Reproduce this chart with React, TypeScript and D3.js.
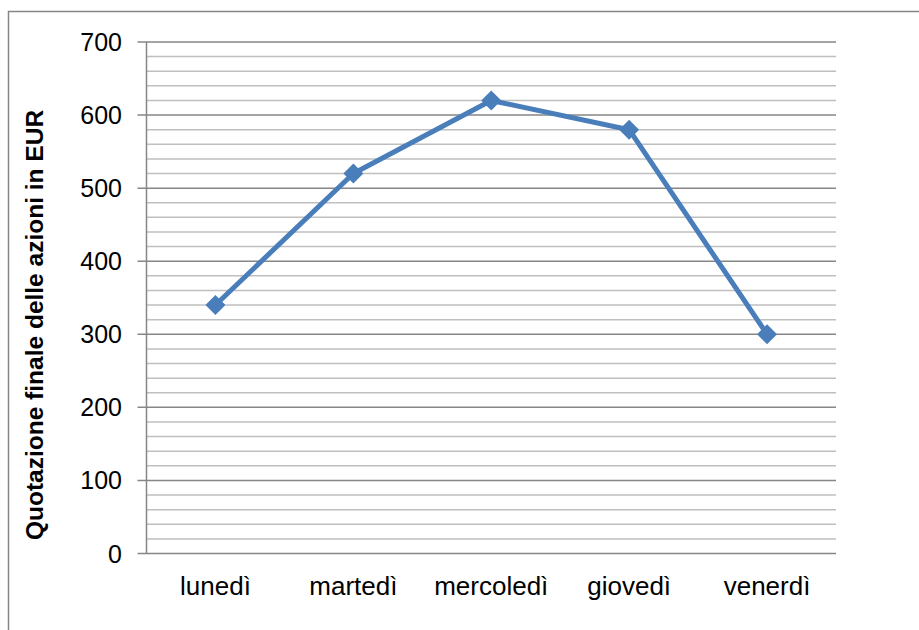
import React from "react";
import * as d3 from "d3";

const categories = ["lunedì", "martedì", "mercoledì", "giovedì", "venerdì"];
const values = [340, 520, 620, 580, 300];
const majorTicks = [0, 100, 200, 300, 400, 500, 600, 700];
const minorTicks = d3.range(0, 701, 20).filter((v) => v % 100 !== 0);
const yTitle = "Quotazione finale delle azioni in EUR";

export default function App() {
  const W = 919;
  const H = 630;
  const left = 146.5;
  const right = 836;
  const top = 42;
  const bottom = 553.5;
  const x = d3.scaleBand().domain(categories).range([left, right]);
  const y = d3.scaleLinear().domain([0, 700]).range([bottom, top]);
  const line = d3
    .line<number>()
    .x((_, i) => (x(categories[i]) as number) + x.bandwidth() / 2)
    .y((d) => y(d));
  const font = "'Liberation Sans', Arial, sans-serif";
  return (
    <svg
      width={W}
      height={H}
      style={{ position: "absolute", left: 0, top: 0, background: "#fff" }}
    >
      <rect x={8.5} y={11.5} width={W + 10} height={H + 10} fill="none" stroke="#868686" strokeWidth={1.5} />
      {minorTicks.map((t) => (
        <line key={"m" + t} x1={left} x2={right} y1={y(t)} y2={y(t)} stroke="#BFBFBF" strokeWidth={1.5} />
      ))}
      {majorTicks.map((t) => (
        <g key={"M" + t}>
          <line x1={left - 9} x2={right} y1={y(t)} y2={y(t)} stroke="#868686" strokeWidth={1.5} />
          <text x={122} y={y(t)} dy="0.36em" textAnchor="end" fontFamily={font} fontSize={25} fill="#000">
            {t}
          </text>
        </g>
      ))}
      <line x1={left} x2={left} y1={top} y2={bottom} stroke="#868686" strokeWidth={1.5} />
      {categories.map((c) => (
        <text
          key={c}
          x={(x(c) as number) + x.bandwidth() / 2}
          y={595}
          textAnchor="middle"
          fontFamily={font}
          fontSize={26}
          fill="#000"
        >
          {c}
        </text>
      ))}
      <text
        transform={`translate(43,325) rotate(-90)`}
        textAnchor="middle"
        fontFamily={font}
        fontSize={24.5}
        fontWeight="bold"
        fill="#000"
      >
        {yTitle}
      </text>
      <path d={line(values) || ""} fill="none" stroke="#4A7EBB" strokeWidth={5} strokeLinejoin="round" />
      {values.map((v, i) => {
        const cx = (x(categories[i]) as number) + x.bandwidth() / 2;
        const cy = y(v);
        const r = 10;
        return (
          <path
            key={i}
            d={`M${cx},${cy - r}L${cx + r},${cy}L${cx},${cy + r}L${cx - r},${cy}Z`}
            fill="#4A7EBB"
          />
        );
      })}
    </svg>
  );
}
